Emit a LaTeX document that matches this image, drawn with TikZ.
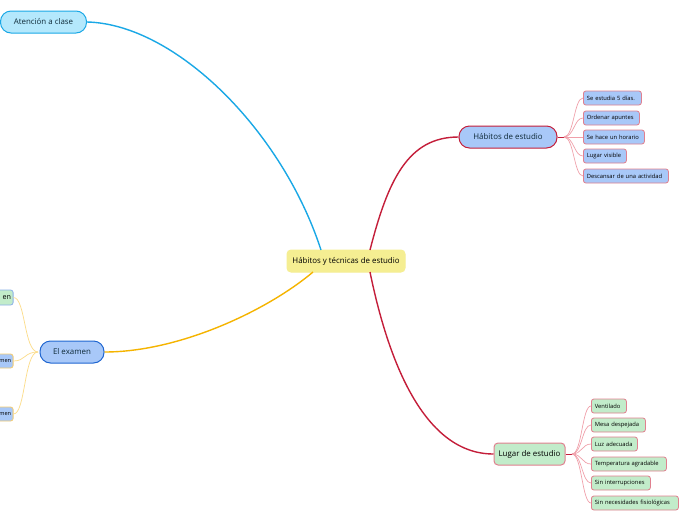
\documentclass[tikz,border=0pt]{standalone}
\usepackage{fontspec}
\setmainfont{Open Sans}
\definecolor{cyanline}{HTML}{1AA8E6}
\definecolor{cyanfill}{HTML}{B4E8FC}
\definecolor{centfill}{HTML}{F5EE92}
\definecolor{crimson}{HTML}{C41E3A}
\definecolor{bluefill}{HTML}{A8C8F8}
\definecolor{pinkbord}{HTML}{E0808F}
\definecolor{pinkline}{HTML}{F0A0AA}
\definecolor{greenfill}{HTML}{C2ECCA}
\definecolor{orangeline}{HTML}{F5B400}
\definecolor{exborder}{HTML}{1F66D1}
\definecolor{yelline}{HTML}{FCDC88}
\definecolor{yelbord}{HTML}{F5CC70}
\definecolor{lightblue}{HTML}{8AB0E8}
\definecolor{darktext}{HTML}{0E2A38}
\tikzset{
  pill/.style={draw, line width=1pt, rounded corners=10.5pt, minimum height=22pt,
    inner sep=0pt, font=\fontsize{7.9}{9}\selectfont, text=darktext},
  mainbox/.style={draw, line width=1pt, rounded corners=4pt, minimum height=22pt,
    inner sep=0pt, font=\fontsize{7.9}{9}\selectfont, text=darktext},
  child/.style={draw, line width=0.8pt, rounded corners=2.5pt, minimum height=14pt,
    inner xsep=3.5pt, inner ysep=0pt, anchor=west, align=left,
    font=\fontsize{5.8}{7}\selectfont, text=black},
  leftchild/.style={line width=0.8pt, rounded corners=2.5pt,
    inner xsep=2pt, inner ysep=0pt, text width=40pt, align=right, anchor=east},
  mainline/.style={line width=1.4pt},
  subline/.style={line width=0.7pt},
}
\begin{document}
\begin{tikzpicture}[x=1pt,y=-1pt]
\useasboundingbox (0,0) rectangle (696,520);
\clip (0,0) rectangle (696,520);
\fill[white] (0,0) rectangle (696,520);

% main nodes
\node[mainbox, draw=centfill, fill=centfill, minimum width=118pt, text=black] (cent) at (346,261) {Hábitos y técnicas de estudio};
\node[pill, draw=cyanline, fill=cyanfill, minimum width=86pt] (aten) at (43.5,22) {Atención a clase};
\node[pill, draw=crimson, fill=bluefill, minimum width=98pt] (hab) at (508,137) {Hábitos de estudio};
\node[mainbox, draw=pinkbord, fill=greenfill, minimum width=71pt, text=black] (lug) at (529.5,454) {Lugar de estudio};
\node[pill, draw=exborder, fill=bluefill, minimum width=64pt] (exa) at (72,352) {El examen};

% main connectors
\coordinate (centTL) at (321,250);
\coordinate (centTR) at (370,250);
\coordinate (centBR) at (370,272);
\coordinate (centBL) at (313,272);
\draw[mainline, cyanline] (aten.east) .. controls (175,24) and (282,130) .. (centTL);
\draw[mainline, crimson] (centTR) .. controls (388,180) and (408,137) .. (hab.west);
\draw[mainline, crimson] (centBR) .. controls (386,350) and (420,454) .. (lug.west);
\draw[mainline, orangeline] (centBL) .. controls (268,310) and (180,352) .. (exa.east);

% Habitos children
\node[child, draw=pinkbord, fill=bluefill, text width=51pt] (h1) at (583,98) {Se estudia 5 días.};
\node[child, draw=pinkbord, fill=bluefill, text width=49pt] (h2) at (583,118) {Ordenar apuntes};
\node[child, draw=pinkbord, fill=bluefill, text width=54pt] (h3) at (583,137) {Se hace un horario};
\node[child, draw=pinkbord, fill=bluefill, text width=36pt] (h4) at (583,156) {Lugar visible};
\node[child, draw=pinkbord, fill=bluefill, text width=78pt] (h5) at (583,176) {Descansar de una actividad};
\coordinate (hhub) at (564,137);
\draw[subline, crimson, line width=1pt] (hab.east) -- (hhub);
\foreach \c in {h1,h2,h3,h4,h5}
  \draw[subline, pinkline] (hhub) .. controls +(10,0) and +(-9,0) .. (\c.west);

% Lugar children
\node[child, draw=pinkbord, fill=greenfill, text width=28pt] (l1) at (591,406) {Ventilado};
\node[child, draw=pinkbord, fill=greenfill, text width=47pt] (l2) at (591,425) {Mesa despejada};
\node[child, draw=pinkbord, fill=greenfill, text width=39pt] (l3) at (591,444) {Luz adecuada};
\node[child, draw=pinkbord, fill=greenfill, text width=68pt] (l4) at (591,464) {Temperatura agradable};
\node[child, draw=pinkbord, fill=greenfill, text width=52pt] (l5) at (591,483) {Sin interrupciones};
\node[child, draw=pinkbord, fill=greenfill, text width=80pt] (l6) at (591,503) {Sin necesidades fisiológicas};
\coordinate (lhub) at (572,454);
\draw[subline, crimson, line width=1pt] (lug.east) -- (lhub);
\foreach \c in {l1,l2,l3,l4,l5,l6}
  \draw[subline, pinkline] (lhub) .. controls +(10,0) and +(-9,0) .. (\c.west);

% El examen children (cut off at left edge)
\node[leftchild, draw=lightblue, fill=greenfill, minimum height=15pt,
  font=\fontsize{7.2}{8}\selectfont, text=black] (e1) at (13.5,297.5) {en};
\node[leftchild, draw=yelbord, fill=bluefill, minimum height=14pt,
  font=\fontsize{5.6}{7}\selectfont, text=black] (e2) at (13.5,361) {men};
\node[leftchild, draw=yelbord, fill=bluefill, minimum height=14pt,
  font=\fontsize{5.6}{7}\selectfont, text=black] (e3) at (13.5,414) {men};
\coordinate (ehub) at (38,352);
\foreach \c in {e1,e2,e3}
  \draw[subline, yelline] (ehub) .. controls +(-14,0) and +(12,0) .. (\c.east);
\end{tikzpicture}
\end{document}
